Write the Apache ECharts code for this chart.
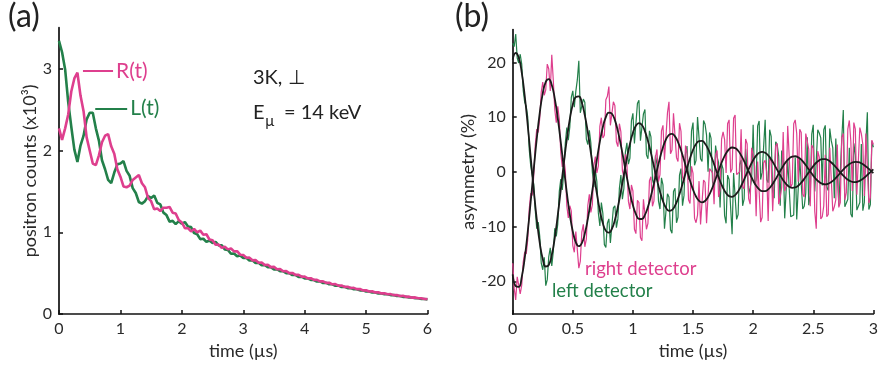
<!DOCTYPE html>
<html>
<head>
<meta charset="utf-8">
<script src="https://cdn.jsdelivr.net/npm/echarts@6/dist/echarts.min.js"></script>
<style>
  html, body { margin: 0; padding: 0; background: #ffffff; }
  #chart { width: 881px; height: 365px; }
</style>
</head>
<body>
<div id="chart"></div>
<script>
// ---------- (a) positron counts, sampled every 0.05 µs from 0 to 6 µs (units of 10^3) ----------
const COUNT_STEP = 0.05;
const countsR = [2.27,2.13,2.27,2.44,2.72,2.88,2.95,2.67,2.48,2.16,2.00,1.84,1.82,1.94,2.10,2.18,2.20,2.05,1.96,1.77,
  1.68,1.56,1.55,1.57,1.64,1.67,1.70,1.60,1.55,1.42,1.38,1.28,1.29,1.26,1.30,1.30,1.31,1.24,1.23,1.15,
  1.12,1.05,1.05,1.01,1.04,1.00,1.02,0.97,0.976,0.912,0.902,0.847,0.850,0.809,0.824,0.791,0.802,0.766,0.769,0.726,
  0.722,0.688,0.690,0.657,0.660,0.628,0.631,0.601,0.604,0.574,0.577,0.549,0.550,0.524,0.526,0.501,0.503,0.479,0.480,0.457,
  0.459,0.437,0.439,0.418,0.419,0.400,0.401,0.382,0.383,0.364,0.366,0.348,0.349,0.333,0.334,0.319,0.320,0.305,0.306,0.290,
  0.292,0.277,0.279,0.265,0.266,0.253,0.255,0.242,0.244,0.232,0.233,0.221,0.223,0.211,0.213,0.201,0.204,0.193,0.194,0.185,0.185];
const countsL = [3.34,3.20,2.99,2.59,2.29,2.01,1.86,2.06,2.18,2.38,2.46,2.46,2.27,2.12,1.88,1.77,1.64,1.60,1.73,1.83,
  1.84,1.87,1.75,1.69,1.54,1.48,1.37,1.35,1.38,1.44,1.42,1.45,1.36,1.34,1.24,1.21,1.13,1.14,1.10,1.136,
  1.105,1.125,1.070,1.063,0.990,0.976,0.916,0.921,0.882,0.900,0.868,0.882,0.840,0.841,0.790,0.785,0.738,0.740,0.706,0.717,
  0.687,0.689,0.655,0.657,0.626,0.629,0.598,0.600,0.572,0.573,0.546,0.549,0.523,0.524,0.499,0.500,0.477,0.478,0.455,0.457,
  0.436,0.437,0.417,0.417,0.398,0.399,0.380,0.381,0.364,0.364,0.347,0.348,0.332,0.333,0.317,0.318,0.304,0.304,0.290,0.290,
  0.277,0.277,0.264,0.265,0.252,0.253,0.243,0.242,0.232,0.232,0.221,0.221,0.211,0.211,0.202,0.202,0.193,0.193,0.185,0.185,0.179];
const countXTicks = [0,1,2,3,4,5,6];
const countYTicks = [0,1,2,3];

// ---------- (b) asymmetry (%) ----------
// measured asymmetry, every 0.0125 µs from 0 to 3 µs
const ASYM_STEP = 0.0125;
const asymLeft = [
  23.5,22.9, 25.2,20.8, 19.9,21.5, 19.7,14.9, 12.7,12.0, 10.0,4.1, 1.1,0.9, -2.3,-7.0, -10.4,-9.2, -11.8,-16.7,
  -17.9,-15.6, -20.8,-19.7, -15.5,-13.9, -17.2,-14.6, -10.3,-11.8, -9.5,-3.6, -1.3,-3.3, 0.0,5.2, 8.1,5.8, 8.2,13.6,
  14.8,11.8, 14.7,16.8, 20.3,10.8, 10.6,13.3, 12.7,6.0, 5.0,7.6, 5.3,0.0, -2.8,0.3, -1.8,-7.5, -9.9,-5.6,
  -7.6,-13.3, -13.8,-9.4, -8.6,-13.0, -12.8,-6.6, -6.2,-10.2, -8.6,-3.0, -0.6,-5.0, -3.0,3.6, 5.3,1.4, 2.5,9.3,
  10.7,5.2, 5.5,12.5, 13.1,5.7, 5.8,10.6, 11.4,3.1, 2.4,7.5, 6.4,-1.4, -2.5,3.0, 1.4,-5.3, -6.8,-1.1,
  -2.4,-10.4, -10.6,-4.0, -4.6,-10.6, -11.2,-3.6, -3.0,-9.3, -8.3,-0.6, 0.6,-6.2, -4.3,3.3, 4.7,-1.4, -0.7,7.5,
  9.0,1.2, 2.1,10.0, 10.2,2.4, 1.9,9.4, 8.7,6.7, 0.0,7.2, 6.1,-1.9, -3.1,4.8, 2.8,1.7, -6.5,1.5,
  0.5,-8.0, -9.4,-0.6, -1.4,-1.5, -11.4,-0.2, -0.3,-8.7, -7.8,1.3, 2.2,-6.2, -5.0,4.2, 4.3,-4.1, -2.9,-1.4,
  8.6,-2.3, -1.5,8.4, 9.3,-1.4, -0.1,-0.4, 9.5,-1.4, -2.0,7.7, 6.5,-3.8, -4.8,5.5, 5.0,2.9, -6.2,3.9,
  2.5,-8.5, -8.2,2.1, 2.1,-8.2, -8.1,-7.9, 2.6,-8.7, -8.9,2.5, 2.2,-6.8, -6.3,-3.9, 6.3,-6.1, -4.3,6.9,
  8.6,-3.6, -3.5,7.7, 7.1,6.2, -2.5,7.7, 8.5,-2.8, -3.4,7.9, 5.7,4.4, -4.8,6.1, 5.8,-6.2, -5.9,6.2,
  11.3,-6.4, -6.2,-5.0, 4.4,-7.7, -8.3,5.2, 3.1,-7.0, -7.3,-5.6, 5.1,-7.1, -5.6,5.2, 10.9,-6.9, -6.0,5.6,
  4.5];
const asymRight = [
  -16.7,-21.3, -23.4,-19.2, -19.5,-22.3, -20.7,-16.5, -14.6,-15.0, -12.4,-6.8, -3.9,-4.3, -0.7,4.8, 7.8,7.2, 9.8,14.6,
  16.4,14.0, 15.0,19.7, 18.8,14.8, 21.4,16.8, 11.4,9.0, 12.0,9.6, 3.4,0.9, 2.5,0.3, -6.2,-8.4, -6.2,-7.2,
  -13.5,-14.7, -10.9,-11.2, -17.6,-16.3, -11.0,-9.6, -13.7,-12.3, -6.1,-4.1, -7.4,-6.0, 1.1,2.8, -0.2,1.1, 8.3,9.9,
  6.2,6.7, 13.2,13.8, 15.6,8.5, 8.2,12.8, 12.1,5.5, 4.6,8.8, 7.3,0.2, -0.9,3.2, 1.4,-5.4, -6.8,-2.4,
  -3.5,-10.5, -11.3,-5.2, -5.6,-12.0, -12.6,-5.0, -4.7,-10.5, -9.4,-1.6, -0.9,-6.3, -5.3,2.7, 4.1,-1.8, -0.5,7.5,
  8.5,2.2, 2.5,10.8, 12.8,3.3, 4.0,10.7, 10.7,2.6, 1.9,8.9, 7.4,-1.0, -1.9,4.8, 3.4,-5.1, -5.8,1.0,
  -0.3,-8.5, -9.3,-7.9, -1.7,-9.6, -9.6,-1.5, -1.9,-9.4, -9.1,0.6, 0.5,-0.2, -5.9,3.1, 3.9,-4.6, -3.3,6.0,
  7.3,5.9, -0.2,8.8, 9.5,-0.1, 0.5,9.8, 10.4,-0.5, -0.8,0.0, 7.8,-2.7, -3.1,6.0, 5.1,-4.9, -5.9,4.4,
  3.2,0.9, -8.1,1.9, 1.8,-9.2, -8.3,1.7, 2.1,0.0, -9.0,2.7, 2.0,-7.2, -7.0,4.7, 5.2,-5.9, -4.7,-2.8,
  7.3,-3.5, -2.7,8.4, 8.3,-2.8, -2.2,8.8, 9.5,7.0, -1.8,7.8, 7.2,-4.1, -4.6,7.0, 5.6,4.1, -6.3,4.9,
  4.3,-7.2, -10.4,3.8, 2.7,-8.6, -8.2,-6.2, 3.1,-8.2, -7.8,4.4, 4.5,-7.2, -6.4,-5.1, 5.0,-6.5, -5.6,6.3,
  7.0,-5.1, -3.8,7.8, 9.4,5.6, -3.5,9.0, 7.8,-4.2, -4.2,8.1, 7.0,5.0, -4.4,7.0, 7.0,-5.7, -4.7,5.8,
  5.0];
// fitted precession curves, every 0.025 µs from 0 to 3 µs
const FIT_STEP = 0.025;
const fitLeft = [20.50,21.72,20.89,18.18,13.91,8.55,2.63,-3.28,-8.63,-12.97,-15.93,-17.30,-17.02,-15.20,-12.05,-7.93,-3.26,1.51,5.94,9.64,
  12.29,13.70,13.80,12.62,10.33,7.20,3.53,-0.31,-3.95,-7.07,-9.41,-10.79,-11.12,-10.42,-8.78,-6.41,-3.55,-0.49,2.49,5.11,
  7.15,8.45,8.92,8.55,7.40,5.63,3.42,0.98,-1.44,-3.62,-5.38,-6.57,-7.11,-6.97,-6.19,-4.89,-3.18,-1.26,0.69,2.50,
  4.01,5.08,5.63,5.65,5.15,4.20,2.90,1.39,-0.18,-1.68,-2.95,-3.89,-4.44,-4.56,-4.25,-3.57,-2.59,-1.41,-0.15,1.06,
  2.13,2.96,3.48,3.66,3.49,3.01,2.28,1.37,0.37,-0.63,-1.52,-2.23,-2.71,-2.92,-2.85,-2.53,-1.98,-1.28,-0.49,0.31,
  1.05,1.66,2.10,2.32,2.32,2.11,1.71,1.17,0.55,-0.10,-0.71,-1.23,-1.61,-1.83,-1.87,-1.74,-1.45,-1.05,-0.56,-0.04,0.45];
const fitRight = [-18.73,-20.88,-21.02,-19.23,-15.75,-10.96,-5.38,0.46,6.01,10.78,14.35,16.45,16.95,15.87,13.38,9.78,5.41,0.74,-3.79,-7.79,
  -10.90,-12.88,-13.59,-13.02,-11.28,-8.58,-5.21,-1.50,2.19,5.52,8.20,10.01,10.83,10.62,9.45,7.44,4.85,1.92,-1.06,-3.82,
  -6.11,-7.73,-8.59,-8.62,-7.85,-6.40,-4.41,-2.12,0.28,2.55,4.49,5.93,6.77,6.95,6.48,5.45,3.94,2.15,0.24,-1.62,
  -3.25,-4.51,-5.31,-5.57,-5.32,-4.60,-3.48,-2.08,-0.56,0.95,2.31,3.40,4.13,4.45,4.35,3.85,3.02,1.95,0.74,-0.48,
  -1.61,-2.53,-3.19,-3.53,-3.53,-3.21,-2.60,-1.78,-0.83,0.15,1.08,1.87,2.45,2.78,2.85,2.65,2.22,1.59,0.85,0.07,
  -0.69,-1.36,-1.87,-2.18,-2.29,-2.17,-1.87,-1.41,-0.83,-0.20,0.42,0.97,1.41,1.71,1.83,1.78,1.57,1.22,0.78,0.28,-0.22];
const asymYTicks = [-20,-10,0,10,20];

const PINK = '#de3f8e';
const GREEN = '#23804a';
const FONT = 'Lato';
const INK = '#222222';

const withTime = (arr, step) => arr.map((v, i) => [+(i * step).toFixed(5), v]);

const tickStyle = { color: '#111', width: 1.5 };
function axisStyle(extra, ticks) {
  const axis = Object.assign({
    type: 'value',
    axisLine: { show: true, onZero: false, lineStyle: { color: '#111', width: 1.7 } },
    axisTick: { show: true, inside: true, length: 4, lineStyle: tickStyle },
    axisLabel: { color: '#2a2a2a', fontFamily: FONT, fontSize: 16, margin: 7 },
    splitLine: { show: false },
    nameLocation: 'middle',
    nameTextStyle: { color: '#2a2a2a', fontFamily: FONT, fontSize: 18 }
  }, extra);
  if (ticks) {
    axis.axisTick = Object.assign({}, axis.axisTick, { customValues: ticks });
    axis.axisLabel = Object.assign({}, axis.axisLabel, { customValues: ticks });
  }
  return axis;
}

const chart = echarts.init(document.getElementById('chart'), null, { renderer: 'canvas' });
chart.setOption({
  animation: false,
  backgroundColor: '#ffffff',
  grid: [
    { left: 59, top: 27.7, width: 368.5, height: 289.3 },
    { left: 512.7, top: 29.6, width: 366.6, height: 286.9 }
  ],
  xAxis: [
    axisStyle({ gridIndex: 0, min: 0, max: 6, name: 'time (µs)', nameGap: 19 }, countXTicks),
    axisStyle({ gridIndex: 1, min: 0, max: 3, interval: 0.5, name: 'time (µs)', nameGap: 19 })
  ],
  yAxis: [
    axisStyle({ gridIndex: 0, min: 0, max: 3.5, name: 'positron counts (x10³)', nameGap: 19 }, countYTicks),
    axisStyle({ gridIndex: 1, min: -26, max: 26, name: 'asymmetry (%)', nameGap: 26 }, asymYTicks)
  ],
  series: [
    {
      name: 'L(t)', type: 'line', xAxisIndex: 0, yAxisIndex: 0,
      data: withTime(countsL, COUNT_STEP), showSymbol: false,
      lineStyle: { color: GREEN, width: 2.6 }, itemStyle: { color: GREEN },
      markLine: {
        silent: true, symbol: ['none', 'none'],
        lineStyle: { color: GREEN, width: 2, type: 'solid' },
        label: { show: true, position: 'end', distance: 3, formatter: 'L(t)', color: GREEN, fontFamily: FONT, fontSize: 21 },
        data: [[{ coord: [0.59, 2.51] }, { coord: [1.11, 2.51] }]]
      }
    },
    {
      name: 'R(t)', type: 'line', xAxisIndex: 0, yAxisIndex: 0,
      data: withTime(countsR, COUNT_STEP), showSymbol: false,
      lineStyle: { color: PINK, width: 2.6 }, itemStyle: { color: PINK },
      markLine: {
        silent: true, symbol: ['none', 'none'],
        lineStyle: { color: PINK, width: 2, type: 'solid' },
        label: { show: true, position: 'end', distance: 3, formatter: 'R(t)', color: PINK, fontFamily: FONT, fontSize: 21 },
        data: [[{ coord: [0.39, 2.97] }, { coord: [0.88, 2.97] }]]
      }
    },
    {
      name: 'left detector', type: 'line', xAxisIndex: 1, yAxisIndex: 1,
      data: withTime(asymLeft, ASYM_STEP), showSymbol: false,
      lineStyle: { color: GREEN, width: 1.2 }, itemStyle: { color: GREEN }
    },
    {
      name: 'right detector', type: 'line', xAxisIndex: 1, yAxisIndex: 1,
      data: withTime(asymRight, ASYM_STEP), showSymbol: false,
      lineStyle: { color: PINK, width: 1.2 }, itemStyle: { color: PINK }
    },
    {
      name: 'left fit', type: 'line', xAxisIndex: 1, yAxisIndex: 1,
      data: withTime(fitLeft, FIT_STEP), showSymbol: false, smooth: true,
      lineStyle: { color: '#1b1b1b', width: 1.8 }, itemStyle: { color: '#1b1b1b' }, z: 5
    },
    {
      name: 'right fit', type: 'line', xAxisIndex: 1, yAxisIndex: 1,
      data: withTime(fitRight, FIT_STEP), showSymbol: false, smooth: true,
      lineStyle: { color: '#1b1b1b', width: 1.8 }, itemStyle: { color: '#1b1b1b' }, z: 5
    }
  ],
  graphic: [
    { type: 'text', left: 8, top: 1, style: { text: '(a)', font: '32px ' + FONT, fill: INK } },
    { type: 'text', left: 455, top: 1, style: { text: '(b)', font: '32px ' + FONT, fill: INK } },
    { type: 'text', x: 253, y: 78, style: { text: '3K, ⊥', font: '20px ' + FONT, fill: INK, verticalAlign: 'middle' } },
    { type: 'text', x: 253, y: 113, style: { text: 'E', font: '20px ' + FONT, fill: INK, verticalAlign: 'middle' } },
    { type: 'text', x: 265, y: 121, style: { text: 'µ', font: '15px ' + FONT, fill: INK, verticalAlign: 'middle' } },
    { type: 'text', x: 284, y: 113, style: { text: '= 14 keV', font: '20px ' + FONT, fill: INK, verticalAlign: 'middle' } },
    { type: 'text', x: 585, y: 269, style: { text: 'right detector', font: '18.5px ' + FONT, fill: PINK, verticalAlign: 'middle' } },
    { type: 'text', x: 552, y: 291, style: { text: 'left detector', font: '18.5px ' + FONT, fill: GREEN, verticalAlign: 'middle' } }
  ]
});
</script>
</body>
</html>
